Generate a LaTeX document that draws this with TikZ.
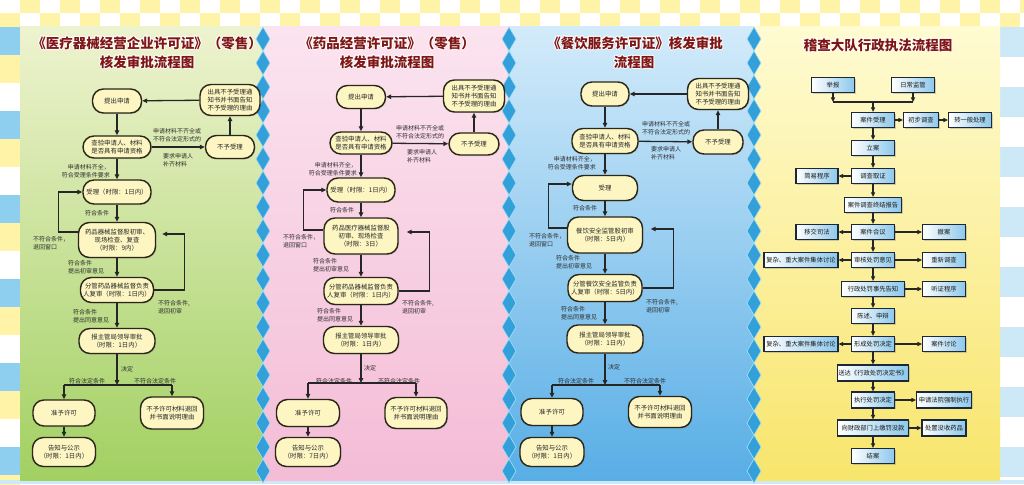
\documentclass[tikz,border=0pt]{standalone}
\usepackage{fontspec}
\setmainfont{Noto Sans CJK SC}
\usetikzlibrary{arrows.meta,shadows}
\definecolor{boxfill}{HTML}{FDF6C3}
\definecolor{boxline}{HTML}{2A2618}
\definecolor{arrc}{HTML}{262626}
\definecolor{lblc}{HTML}{2E2E2E}
\definecolor{titlec}{HTML}{7E1616}
\definecolor{sqb}{HTML}{8CC8EC}
\definecolor{sqline}{HTML}{1C2838}
\definecolor{gtop}{HTML}{EEF3CF}
\definecolor{gbot}{HTML}{A2D062}
\definecolor{ptop}{HTML}{FBE4EF}
\definecolor{pbot}{HTML}{F4BCD6}
\definecolor{btop}{HTML}{D3EBFA}
\definecolor{bbot}{HTML}{58AEE6}
\definecolor{ytop}{HTML}{FFFBD2}
\definecolor{ybot}{HTML}{F8E56C}
\definecolor{diam}{HTML}{34A0DA}
\definecolor{diaml}{HTML}{A8E0F6}
\definecolor{stripy}{HTML}{FFF3A8}
\definecolor{stripb}{HTML}{8ECFF0}
\definecolor{stripl}{HTML}{CDE9F8}
\newcommand\halotitle[4]{%
  \foreach \dx/\dy in {-1/0,1/0,0/-1,0/1,-0.7/-0.7,0.7/0.7,-0.7/0.7,0.7/-0.7}{%
    \node[ttl,text=white,xshift=\dx pt,yshift=\dy pt] at (#2,#3) {#4};}%
  \node[ttl] (#1) at (#2,#3) {#4};}
\begin{document}
\begin{tikzpicture}[x=1pt,y=-1pt,
  wh/.style 2 args={minimum width=#1pt,minimum height=#2pt},
  rb/.style={draw=boxline,line width=1.45pt,fill=boxfill,rounded corners=11pt,inner sep=0pt,
    align=center,font=\fontsize{6.4}{8.2}\selectfont,text=black!85,
    drop shadow={opacity=0.25,shadow xshift=1pt,shadow yshift=-1pt}},
  sq/.style={draw=sqline,line width=1.2pt,left color=white,right color=sqb,inner sep=0pt,
    align=center,font=\fontsize{6.3}{8}\selectfont,text=black!90,minimum height=15pt,
    drop shadow={opacity=0.35,shadow xshift=1.2pt,shadow yshift=-1.2pt}},
  arr/.style={-{Triangle[length=5pt,width=4.5pt]},line width=1.3pt,draw=arrc},
  ln/.style={line width=1.3pt,draw=arrc},
  sarr/.style={-{Triangle[length=4.5pt,width=4pt]},line width=1.1pt,draw=arrc},
  sln/.style={line width=1.1pt,draw=arrc},
  lbl/.style={font=\fontsize{6}{7.6}\selectfont,text=lblc,inner sep=0pt},
  ttl/.style={font=\bfseries\fontsize{13.5}{15}\selectfont,text=titlec,inner sep=0pt}]
\useasboundingbox (0,0) rectangle (1024,484);
% ---------- background ----------
\begin{scope}
\clip (0,0) rectangle (1024,484);
\fill[stripy] (0,0) rectangle (1024,27);
\foreach \i in {0,...,25} {\fill[white] (40*\i,0) rectangle (40*\i+20,13.5);
  \fill[white] (40*\i+20,13.5) rectangle (40*\i+40,27);}
\foreach \i in {0,...,5} {\fill[stripb] (0,27+84*\i) rectangle (20,55+84*\i);
  \fill[stripy] (0,55+84*\i) rectangle (20,83+84*\i);
  \fill[white] (0,83+84*\i) rectangle (20,111+84*\i);}
\foreach \i in {0,...,8} {\fill[stripl] (1000,27+60*\i) rectangle (1024,57+60*\i);
  \fill[white] (1000,57+60*\i) rectangle (1024,87+60*\i);}
\fill[stripl] (0,480) rectangle (1024,484);
\shade[top color=gtop,bottom color=gbot] (20,27) rectangle (263,480);
\shade[top color=ptop,bottom color=pbot] (263,27) rectangle (509,480);
\shade[top color=btop,bottom color=bbot] (509,27) rectangle (754,480);
\shade[top color=ytop,bottom color=ybot] (754,27) rectangle (1000,480);
\foreach \cx in {263,509,754} {
  \foreach \y in {39,63,...,471} {
    \filldraw[fill=diam,draw=diaml,line width=0.6pt] (\cx,\y-12) -- (\cx+7,\y) -- (\cx,\y+12) -- (\cx-7,\y) -- cycle;}}
\end{scope}
% ---------- titles ----------
\halotitle{t1}{147}{43}{《医疗器械经营企业许可证》（零售）}
\halotitle{t2}{147}{62}{核发审批流程图}
\halotitle{t3}{387}{43}{《药品经营许可证》（零售）}
\halotitle{t4}{387}{62}{核发审批流程图}
\halotitle{t5}{635}{43}{《餐饮服务许可证》核发审批}
\halotitle{t6}{634}{62}{流程图}
\halotitle{t7}{878}{45}{稽查大队行政执法流程图}
% ---------- panel 1 ----------
\node[rb,wh={49}{24}] (a1) at (117,101) {提出申请};
\node[rb,wh={60}{31}] (a2) at (230,100) {出具不予受理通\\知书并书面告知\\不予受理的理由};
\node[rb,wh={68}{22}] (a3) at (117,147) {查验申请人、材料\\是否具有申请资格};
\node[rb,wh={49}{23}] (a4) at (230,147) {不予受理};
\node[rb,wh={68}{24}] (a5) at (117,192) {受理（时限：1日内）};
\node[rb,wh={77}{35}] (a6) at (117,240) {药品器械监督股初审、\\现场检查、复查\\（时限：9内）};
\node[rb,wh={73}{25}] (a7) at (117,290) {分管药品器械监督负责\\人复审（时限：1日内）};
\node[rb,wh={76}{25}] (a8) at (117,341) {报主管局领导审批\\（时限：1日内）};
\node[rb,wh={62}{26}] (a9) at (64,413) {准予许可};
\node[rb,wh={63}{32}] (a10) at (172,413) {不予许可材料退回\\并书面说明理由};
\node[rb,wh={63}{29}] (a11) at (64,452) {告知与公示\\（时限：1日内）};
\coordinate (aj) at (117,385);
\draw[arr] (a1) -- (a3);
\draw[arr] (a3) -- (a4);
\draw[arr] (a4) -- (a2);
\draw[arr] (a2) -- (a1);
\draw[arr] (a3) -- (a5);
\draw[arr] (a5) -- (a6);
\draw[arr] (a6) -- (a7);
\draw[arr] (a7) -- (a8);
\draw[arr] (a8) -- (aj);
\draw[ln] (aj -| a9) -- (aj -| a10);
\draw[arr] (aj -| a9) -- (a9);
\draw[arr] (aj -| a10) -- (a10);
\draw[arr] (a9) -- (a11);
\draw[arr] ([yshift=8pt]a6.west) -- ++(-19,0) |- (a5.west);
\draw[arr] (a7.east) -- ++(30,0) |- ([xshift=6pt,yshift=6pt]a6.east);
\node[lbl,align=center] (la1) at (177,135) {申请材料不齐全或\\不符合法定形式的};
\node[lbl,align=left,anchor=west] (la2) at (163,160) {要求申请人\\补齐材料};
\node[lbl,align=right,anchor=east] (la3) at (110,171) {申请材料齐全，\\符合受理条件要求};
\node[lbl,anchor=west] (la4) at (85,213) {符合条件};
\node[lbl,align=left,anchor=west] (la5) at (33,243) {不符合条件，\\退回窗口};
\node[lbl,align=left,anchor=west] (la6) at (68,267) {符合条件\\提出初审意见};
\node[lbl,align=left,anchor=west] (la7) at (158,307) {不符合条件,\\退回初审};
\node[lbl,align=left,anchor=west] (la8) at (73,316) {符合条件\\提出同意意见};
\node[lbl,anchor=west] (la9) at (121,369) {决定};
\node[lbl] (la10) at (87,381) {符合法定条件};
\node[lbl] (la11) at (155,381) {不符合法定条件};
% ---------- panel 2 ----------
\node[rb,wh={49}{23}] (b1) at (361,97) {提出申请};
\node[rb,wh={61}{32}] (b2) at (474,96) {出具不予受理通\\知书并书面告知\\不予受理的理由};
\node[rb,wh={62}{22}] (b3) at (361,143) {查验申请人、材料\\是否具有申请资格};
\node[rb,wh={50}{22}] (b4) at (474,144) {不予受理};
\node[rb,wh={68}{24}] (b5) at (361,190) {受理（时限：1日内）};
\node[rb,wh={74}{36}] (b6) at (361,236) {药品医疗器械监督股\\初审、现场检查\\（时限：3日）};
\node[rb,wh={74}{27}] (b7) at (361,291) {分管药品器械监督负责\\人复审（时限：1日内）};
\node[rb,wh={75}{27}] (b8) at (361,340) {报主管局领导审批\\（时限：1日内）};
\node[rb,wh={63}{27}] (b9) at (308,413) {准予许可};
\node[rb,wh={62}{31}] (b10) at (416,413) {不予许可材料退回\\并书面说明理由};
\node[rb,wh={65}{29}] (b11) at (308,452) {告知与公示\\（时限：7日内）};
\coordinate (bj) at (361,383);
\draw[arr] (b1) -- (b3);
\draw[arr] (b3) -- (b4);
\draw[arr] (b4) -- (b2);
\draw[arr] (b2) -- (b1);
\draw[arr] (b3) -- (b5);
\draw[arr] (b5) -- (b6);
\draw[arr] (b6) -- (b7);
\draw[arr] (b7) -- (b8);
\draw[arr] (b8) -- (bj);
\draw[ln] (bj -| b9) -- (bj -| b10);
\draw[arr] (bj -| b9) -- (b9);
\draw[arr] (bj -| b10) -- (b10);
\draw[arr] (b9) -- (b11);
\draw[arr] ([yshift=6pt]b6.west) -- ++(-20,0) |- (b5.west);
\draw[arr] (b7.east) -- ++(31,0) |- ([xshift=8pt,yshift=4pt]b6.east);
\node[lbl,align=center] (lb1) at (420,132) {申请材料不齐全或\\不符合法定形式的};
\node[lbl,align=left,anchor=west] (lb2) at (407,156) {要求申请人\\补齐材料};
\node[lbl,align=right,anchor=east] (lb3) at (357,169) {申请材料齐全，\\符合受理条件要求};
\node[lbl,anchor=west] (lb4) at (330,210) {符合条件};
\node[lbl,align=left,anchor=west] (lb5) at (283,241) {不符合条件，\\退回窗口};
\node[lbl,align=left,anchor=west] (lb6) at (313,265) {符合条件\\提出初审意见};
\node[lbl,align=left,anchor=west] (lb7) at (402,307) {不符合条件,\\退回初审};
\node[lbl,align=left,anchor=west] (lb8) at (317,315) {符合条件\\提出同意意见};
\node[lbl,anchor=west] (lb9) at (364,368) {决定};
\node[lbl] (lb10) at (334,381) {符合法定条件};
\node[lbl] (lb11) at (399,381) {不符合法定条件};
% ---------- panel 3 ----------
\node[rb,wh={48}{24}] (c1) at (605,94) {提出申请};
\node[rb,wh={61}{31}] (c2) at (718,94) {出具不予受理通\\知书并书面告知\\不予受理的理由};
\node[rb,wh={66}{25}] (c3) at (605,141) {查验申请人、材料\\是否具有申请资格};
\node[rb,wh={50}{24}] (c4) at (718,142) {不予受理};
\node[rb,wh={65}{25}] (c5) at (605,188) {受理};
\node[rb,wh={75}{36}] (c6) at (605,235) {餐饮安全监管股初审\\（时限：5日内）};
\node[rb,wh={74}{27}] (c7) at (605,288) {分管餐饮安全监管负责\\人复审（时限：5日内）};
\node[rb,wh={76}{28}] (c8) at (605,339) {报主管局领导审批\\（时限：1日内）};
\node[rb,wh={62}{27}] (c9) at (552,412) {准予许可};
\node[rb,wh={63}{31}] (c10) at (660,412) {不予许可材料退回\\并书面说明理由};
\node[rb,wh={64}{29}] (c11) at (552,452) {告知与公示\\（时限：1日内）};
\coordinate (cj) at (605,385);
\draw[arr] (c1) -- (c3);
\draw[arr] (c3) -- (c4);
\draw[arr] (c4) -- (c2);
\draw[arr] (c2) -- (c1);
\draw[arr] (c3) -- (c5);
\draw[arr] (c5) -- (c6);
\draw[arr] (c6) -- (c7);
\draw[arr] (c7) -- (c8);
\draw[arr] (c8) -- (cj);
\draw[ln] (cj -| c9) -- (cj -| c10);
\draw[arr] (cj -| c9) -- (c9);
\draw[arr] (cj -| c10) -- (c10);
\draw[arr] (c9) -- (c11);
\draw[arr] ([yshift=7pt]c6.west) -- ++(-18.5,0) |- ([yshift=4pt]c5.west);
\draw[arr] (c7.east) -- ++(31,0) |- ([xshift=7.5pt,yshift=6pt]c6.east);
\node[lbl,align=center] (lc1) at (666,128) {申请材料不齐全或\\不符合法定形式的};
\node[lbl,align=left,anchor=west] (lc2) at (651,153) {要求申请人\\补齐材料};
\node[lbl,align=right,anchor=east] (lc3) at (596,163) {申请材料齐全，\\符合受理条件要求};
\node[lbl,anchor=west] (lc4) at (573,208) {符合条件};
\node[lbl,align=left,anchor=west] (lc5) at (529,240) {不符合条件，\\退回窗口};
\node[lbl,align=left,anchor=west] (lc6) at (556,262) {符合条件\\提出初审意见};
\node[lbl,align=left,anchor=west] (lc7) at (646,306) {不符合条件,\\退回初审};
\node[lbl,align=left,anchor=west] (lc8) at (561,313) {符合条件\\提出同意意见};
\node[lbl,anchor=west] (lc9) at (608,367) {决定};
\node[lbl] (lc10) at (576,381) {符合法定条件};
\node[lbl] (lc11) at (645,381) {不符合法定条件};
% ---------- panel 4 ----------
\node[sq,minimum width=43pt] (d1) at (833,85) {举报};
\node[sq,minimum width=43pt] (d2) at (913,85) {日常监管};
\node[sq,minimum width=43pt] (d3) at (873,120) {案件受理};
\node[sq,minimum width=35pt] (d4) at (921,120) {初步调查};
\node[sq,minimum width=43pt] (d5) at (970,120) {转一般处理};
\node[sq,minimum width=43pt] (d6) at (873,148) {立案};
\node[sq,minimum width=43pt] (d7) at (873,176) {调查取证};
\node[sq,minimum width=42pt] (d8) at (817,176) {简易程序};
\node[sq,minimum width=57pt] (d9) at (873,205) {案件调查终结报告};
\node[sq,minimum width=43pt] (d10) at (873,232) {案件合议};
\node[sq,minimum width=42pt] (d11) at (817,232) {移交司法};
\node[sq,minimum width=43pt] (d12) at (944,232) {撤案};
\node[sq,minimum width=43pt] (d13) at (873,260) {审核处罚意见};
\node[sq,minimum width=74pt] (d14) at (801,260) {复杂、重大案件集体讨论};
\node[sq,minimum width=43pt] (d15) at (944,260) {重新调查};
\node[sq,minimum width=63pt] (d16) at (873,289) {行政处罚事先告知};
\node[sq,minimum width=43pt] (d17) at (944,289) {听证程序};
\node[sq,minimum width=43pt] (d18) at (873,316) {陈述、申辩};
\node[sq,minimum width=74pt] (d19) at (801,344) {复杂、重大案件集体讨论};
\node[sq,minimum width=43pt] (d20) at (873,344) {形成处罚决定};
\node[sq,minimum width=43pt] (d21) at (944,344) {案件讨论};
\node[sq,minimum width=71pt,minimum height=16pt] (d22) at (873,373) {送达《行政处罚决定书》};
\node[sq,minimum width=43pt,minimum height=16pt] (d23) at (873,400) {执行处罚决定};
\node[sq,minimum width=55pt,minimum height=16pt] (d24) at (944,400) {申请法院强制执行};
\node[sq,minimum width=71pt,minimum height=16pt] (d25) at (873,428) {向财政部门上缴罚没款};
\node[sq,minimum width=44pt,minimum height=16pt] (d26) at (944,428) {处置没收药品};
\node[sq,minimum width=43pt] (d27) at (873,456) {结案};
\coordinate (dj) at (873,102);
\draw[sarr] (d1) -- (d1 |- dj);
\draw[sarr] (d2) -- (d2 |- dj);
\draw[sln] (d1 |- dj) -- (d2 |- dj);
\draw[sarr] (dj) -- (d3);
\draw[sarr] (d3) -- (d4);
\draw[sarr] (d4) -- (d5);
\draw[sarr] (d3) -- (d6);
\draw[sarr] (d6) -- (d7);
\draw[sarr] (d7) -- (d8);
\draw[sarr] (d7) -- (d9);
\draw[sarr] (d9) -- (d10);
\draw[sarr] (d10) -- (d11);
\draw[sarr] (d10) -- (d12);
\draw[sarr] (d10) -- (d13);
\draw[sarr] (d13) -- (d14);
\draw[sarr] (d13) -- (d15);
\draw[sarr] (d13) -- (d16);
\draw[sarr] (d16) -- (d17);
\draw[sarr] (d16) -- (d18);
\draw[sarr] (d18) -- (d20);
\draw[sarr] (d20) -- (d19);
\draw[sarr] (d20) -- (d21);
\draw[sarr] (d20) -- (d22);
\draw[sarr] (d22) -- (d23);
\draw[sarr] (d23) -- (d24);
\draw[sarr] (d23) -- (d25);
\draw[sarr] (d25) -- (d26);
\draw[sarr] (d25) -- (d27);
\end{tikzpicture}
\end{document}
